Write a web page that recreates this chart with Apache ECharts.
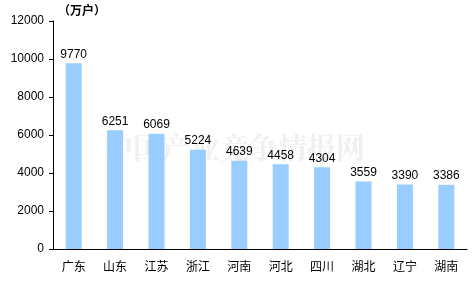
<!DOCTYPE html>
<html><head><meta charset="utf-8">
<script src="https://cdn.jsdelivr.net/npm/echarts@6/dist/echarts.min.js"></script>
<style>html,body{margin:0;padding:0;background:#fff}#c{width:475px;height:290px}</style>
</head><body><div id="c"></div>
<script>
var categories = ['广东','山东','江苏','浙江','河南','河北','四川','湖北','辽宁','湖南'];
var values = [9770,6251,6069,5224,4639,4458,4304,3559,3390,3386];
var yTicks = [0,2000,4000,6000,8000,10000,12000];
var unitLabel = '（万户）';
var watermark = '中国产业竞争情报网';

var chart = echarts.init(document.getElementById('c'), null, {renderer:'canvas'});
chart.setOption({
  animation:false,
  backgroundColor:'#fff',
  grid:{left:53,right:8,top:21,bottom:41},
  graphic:[
    {type:'text',left:58,top:4,z:10,style:{text:unitLabel,font:'bold 12px "Noto Sans CJK SC"',fill:'#000'}},
    {type:'text',left:104,top:133,z:0,style:{text:watermark,font:'bold 29px "Noto Serif CJK SC", "Noto Sans CJK SC"',fill:'#f0f0f0'}}
  ],
  xAxis:{type:'category',data:categories,
    axisLine:{lineStyle:{color:'#000',width:1}},
    axisTick:{inside:true,length:4,lineStyle:{color:'#000'}},
    axisLabel:{color:'#000',fontSize:12,fontFamily:'"Noto Sans CJK SC"',margin:11}},
  yAxis:{type:'value',min:yTicks[0],max:yTicks[yTicks.length-1],interval:2000,
    axisLine:{show:true,lineStyle:{color:'#000',width:1}},
    axisTick:{show:true,length:4,lineStyle:{color:'#000'}},
    splitLine:{show:false},
    axisLabel:{color:'#000',fontSize:12,fontFamily:'"Liberation Sans", Arial',margin:9,formatter:function(v){return String(v);}}},
  series:[{type:'bar',data:values,barWidth:16,z:5,
    itemStyle:{color:'#99CCFF'},
    label:{show:true,position:'top',distance:3,color:'#000',fontSize:12,fontFamily:'"Liberation Sans", Arial'}}]
});
</script></body></html>
